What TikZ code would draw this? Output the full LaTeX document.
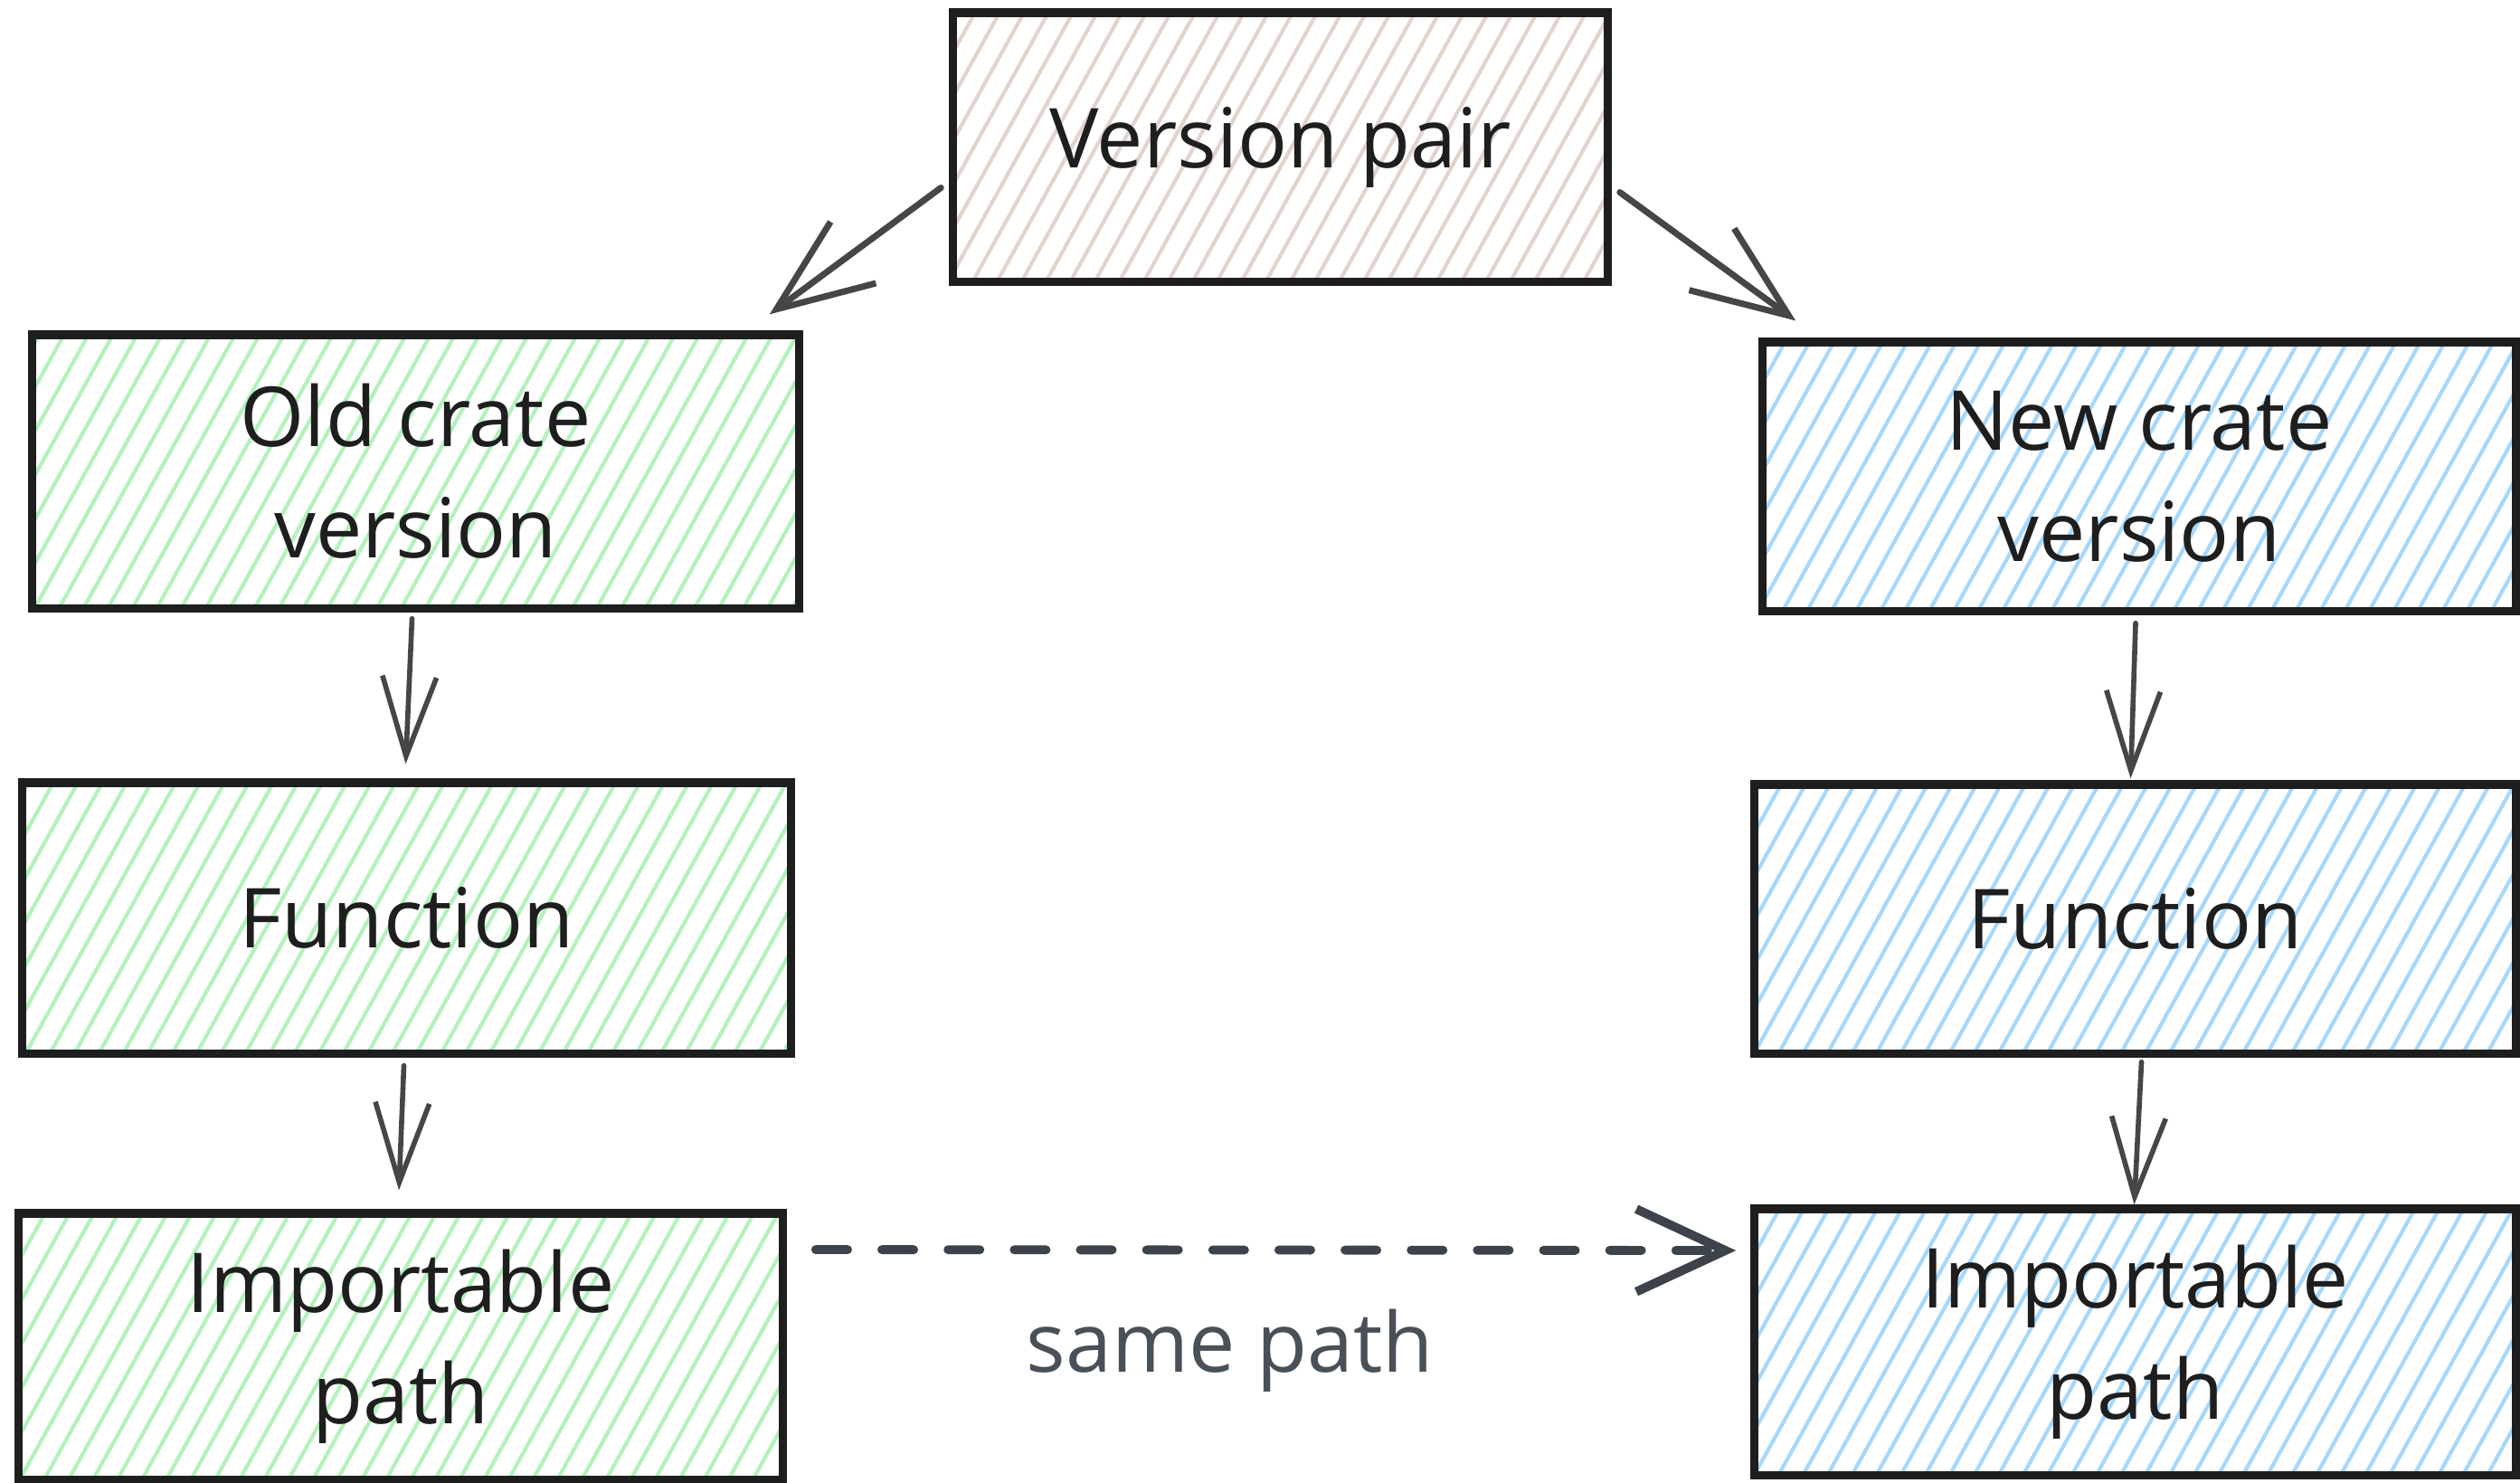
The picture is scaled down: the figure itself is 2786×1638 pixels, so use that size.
\documentclass[tikz,border=0pt]{standalone}
\usepackage{fontspec}
\setmainfont{Open Sans}
\usetikzlibrary{arrows.meta,calc}
\definecolor{strokec}{HTML}{1E1E1E}
\definecolor{arrowc}{HTML}{464646}
\definecolor{dashc}{HTML}{3D434A}
\definecolor{labelc}{HTML}{495057}
\definecolor{hpink}{HTML}{E3D3CE}
\definecolor{hgreen}{HTML}{B2F2BB}
\definecolor{hblue}{HTML}{A5D8FF}
\tikzset{
  hatch/.style={path picture={
    \foreach \k in {-30,...,26}{
      \draw[#1,line width=1.2pt] ([xshift=\k*0.27cm,yshift=-0.2cm]path picture bounding box.south) -- ++(61:4.2cm);
    }}},
  box/.style={draw=strokec,line width=2.6pt,rectangle,align=center,
    font=\fontsize{26}{35}\selectfont,text=strokec,inner sep=0pt},
  conn/.style={draw=arrowc,line width=1.6pt,line cap=round,
    -{Straight Barb[length=25pt,width=17pt,line width=1.6pt]}},
  diag/.style={draw=arrowc,line width=2pt,line cap=round,
    -{Straight Barb[length=30pt,width=24pt,line width=2pt]}},
  dasharrow/.style={draw=dashc,line width=2.8pt,line cap=round,
    dash pattern=on 10pt off 10.8pt,
    -{Straight Barb[length=28pt,width=26pt,line width=2.8pt]}},
}
\begin{document}
\begin{tikzpicture}[x=0.01cm,y=-0.01cm]
\useasboundingbox (0,0) rectangle (2786,1638);
\node[box,hatch=hpink,minimum width=7.23cm,minimum height=2.97cm] (vp) at (1415.5,162.5) {Version pair};
\node[box,hatch=hgreen,minimum width=8.47cm,minimum height=3.02cm] (old) at (459.5,521) {Old crate\\version};
\node[box,hatch=hgreen,minimum width=8.49cm,minimum height=2.99cm] (funcL) at (449.5,1014.5) {Function};
\node[box,hatch=hgreen,minimum width=8.44cm,minimum height=2.94cm] (impL) at (443,1488) {Importable\\path};
\node[box,hatch=hblue,minimum width=8.32cm,minimum height=2.97cm] (new) at (2365,526.5) {New crate\\version};
\node[box,hatch=hblue,minimum width=8.41cm,minimum height=2.97cm] (funcR) at (2360.5,1015.5) {Function};
\node[box,hatch=hblue,minimum width=8.41cm,minimum height=2.94cm] (impR) at (2360.5,1483) {Importable\\path};

\draw[diag] ($(vp.west)+(-9,45)$) -- ($(old.north east)+(-37,-18)$);
\draw[diag] ($(vp.east)+(9,50)$) -- ($(new.north west)+(41,-19)$);
\draw[conn] ($(old.south)+(-4,7)$) -- ($(funcL.north)+(-1,-16)$);
\draw[conn] ($(funcL.south)+(-3,9)$) -- ($(impL.north)+(-2,-21)$);
\draw[conn] ($(new.south)+(-4,9)$) -- ($(funcR.north)+(-5,-2)$);
\draw[conn] ($(funcR.south)+(7,5)$) -- ($(impR.north)+(-1,0)$);
\draw[dasharrow] ($(impL.east)+(32,-107)$) -- node[pos=0.45,below=14pt,font=\fontsize{26}{35}\selectfont,text=labelc] (lbl) {same path} ($(impR.west)+(-16,-101)$);
\end{tikzpicture}
\end{document}
